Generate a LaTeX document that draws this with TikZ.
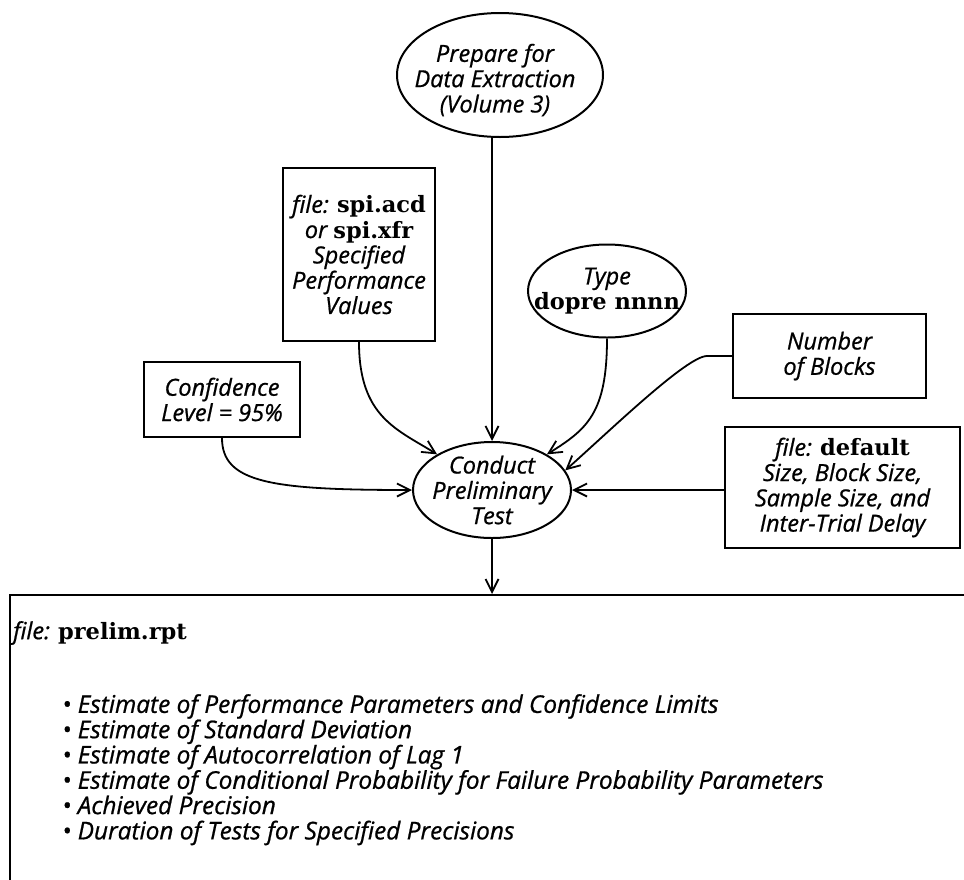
\documentclass[tikz,border=0pt]{standalone}
\usepackage{fontspec}
\setmainfont{Open Sans}[ItalicFeatures={FakeBold=0.8}]
\newfontfamily\fnamefont{DejaVu Serif}
\usetikzlibrary{arrows.meta,shapes.geometric}

% file names are set upright in a bold slab serif
\newcommand{\fn}[1]{{\fnamefont\bfseries\upshape\fontsize{22.5}{25.5}\selectfont #1}}

\begin{document}
\begin{tikzpicture}[x=1pt,y=-1pt,
  lbl/.style={font=\fontsize{23.5}{25.3}\selectfont\itshape, align=center, inner sep=0pt},
  blk/.style={lbl, draw, rectangle, line width=2pt},
  oval/.style={draw, ellipse, line width=2pt, inner sep=0pt},
  arr/.style={line width=1.8pt, -{Straight Barb[length=13pt,width=13pt,line width=1.8pt]}}]
\useasboundingbox (0,0) rectangle (964,879);

% inputs
\node[oval, minimum width=206pt, minimum height=124pt] (prep) at (500,75) {};
\node[lbl] (preptext) at (495,80) {Prepare for\\Data Extraction\\(Volume 3)};
\node[blk, minimum width=152pt, minimum height=173pt] (spec) at (359,254.5)
  {\textit{file:} \fn{spi.acd}\\or \fn{spi.xfr}\\Specified\\Performance\\Values};
\node[oval, minimum width=158pt, minimum height=93pt] (type) at (607,291) {};
\node[lbl] (typetext) at (607,291) {Type\\\fn{dopre nnnn}};
\node[blk, minimum width=193pt, minimum height=84pt] (blocks) at (829.5,356)
  {Number\\of Blocks};
\node[blk, minimum width=156pt, minimum height=75pt] (conf) at (222,399.5)
  {Confidence\\Level = 95\%};
\node[blk, minimum width=235pt, minimum height=121pt] (default) at (842.5,487.5)
  {\textit{file:} \fn{default}\\Size, Block Size,\\Sample Size, and\\Inter-Trial Delay};

% process
\node[oval, minimum width=158pt, minimum height=96pt] (conduct) at (492,490) {};
\node[lbl] (conducttext) at (492,490) {Conduct\\Preliminary\\Test};

% report
\node[draw, rectangle, line width=2pt, minimum width=1000pt, minimum height=405pt] (report) at (510,797.5) {};
\node[lbl, anchor=west] (rptname) at (13,633) {\textit{file:} \fn{prelim.rpt}};
\node[lbl, font=\fontsize{24.4}{25.3}\selectfont\itshape, align=left, anchor=north west] (rptlist) at (62,694)
  {\textbullet\ Estimate of Performance Parameters and Confidence Limits\\
   \textbullet\ Estimate of Standard Deviation\\
   \textbullet\ Estimate of Autocorrelation of Lag 1\\
   \textbullet\ Estimate of Conditional Probability for Failure Probability Parameters\\
   \textbullet\ Achieved Precision\\
   \textbullet\ Duration of Tests for Specified Precisions};

% connectors
\draw[arr] (prep.south -| conduct.north) -- (conduct.north);
\draw[arr] (spec.south) .. controls +(0,75) and +(-40,-25) .. (conduct.147);
\draw[arr] (type.south) .. controls +(0,75) and +(40,-25) .. (conduct.33);
\draw[arr] (blocks.west) -- ++(-25,0) .. controls +(-20,0) and +(45,-40) .. (conduct.15);
\draw[arr] (default.west |- conduct.east) -- (conduct.east);
\draw[arr] (conf.south) .. controls +(0,45) and +(-140,0) .. (conduct.west);
\draw[arr] (conduct.south) -- (conduct.south |- report.north);
\end{tikzpicture}
\end{document}
